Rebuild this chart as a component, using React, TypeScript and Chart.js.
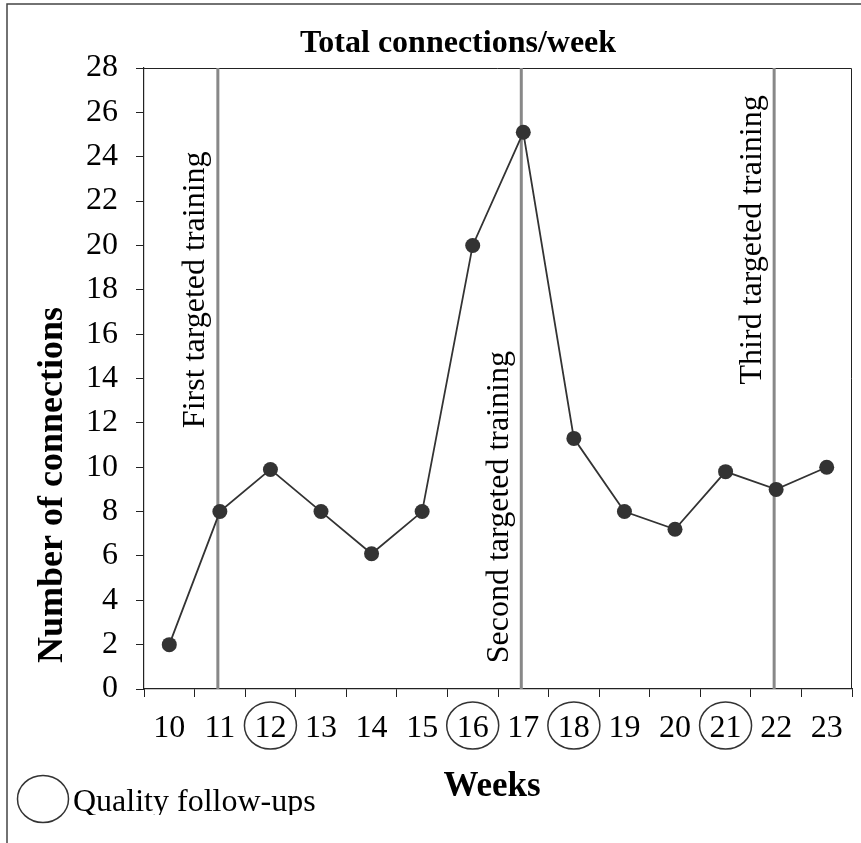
import React, { useEffect, useRef } from 'react';
import { Chart, registerables } from 'chart.js';

Chart.register(...registerables);

const weeks = ['10', '11', '12', '13', '14', '15', '16', '17', '18', '19', '20', '21', '22', '23'];
const connections = [2, 8, 9.9, 8, 6.1, 8, 20, 25.1, 11.3, 8, 7.2, 9.8, 9, 10];
const yMin = 0;
const yMax = 28;
const yStep = 2;
const trainingWeeks = ['11', '17', '22'];
const trainingLabels = ['First targeted training', 'Second targeted training', 'Third targeted training'];
const trainingLabelCenters = [18, 8.2, 20.25];
const qualityWeeks = ['12', '16', '18', '21'];
const chartTitle = 'Total connections/week';
const yTitle = 'Number of connections';
const xTitle = 'Weeks';
const legendLabel = 'Quality follow-ups';

const FONT = '"Liberation Serif", "Times New Roman", serif';
const INK = '#333333';

const decorPlugin = {
  id: 'decor',
  beforeDraw(chart: any) {
    const ctx = chart.ctx;
    ctx.save();
    ctx.fillStyle = '#ffffff';
    ctx.fillRect(0, 0, chart.width, chart.height);
    ctx.strokeStyle = '#444444';
    ctx.lineWidth = 1.5;
    ctx.beginPath();
    ctx.moveTo(7, chart.height);
    ctx.lineTo(7, 4);
    ctx.lineTo(chart.width, 4);
    ctx.stroke();
    ctx.restore();
  },
  beforeDatasetsDraw(chart: any) {
    const ctx = chart.ctx;
    const { left, right, top, bottom } = chart.chartArea;
    const xs = chart.scales.x;
    const ys = chart.scales.y;
    ctx.save();
    ctx.strokeStyle = '#222222';
    ctx.lineWidth = 1;
    ctx.beginPath();
    ctx.moveTo(left, top + 0.5);
    ctx.lineTo(right - 0.5, top + 0.5);
    ctx.lineTo(right - 0.5, bottom);
    ctx.stroke();
    ctx.strokeStyle = '#888888';
    ctx.lineWidth = 3;
    trainingWeeks.forEach((w, i) => {
      const x = xs.getPixelForValue(weeks.indexOf(w)) - 2;
      ctx.beginPath();
      ctx.moveTo(x, top);
      ctx.lineTo(x, bottom);
      ctx.stroke();
      ctx.save();
      ctx.translate(x - 22, ys.getPixelForValue(trainingLabelCenters[i]));
      ctx.rotate(-Math.PI / 2);
      ctx.fillStyle = '#000000';
      ctx.font = `32px ${FONT}`;
      ctx.textAlign = 'center';
      ctx.textBaseline = 'middle';
      ctx.fillText(trainingLabels[i], 0, 0);
      ctx.restore();
    });
    ctx.restore();
  },
  afterDraw(chart: any) {
    const ctx = chart.ctx;
    const xs = chart.scales.x;
    ctx.save();
    ctx.fillStyle = '#000000';
    ctx.font = `bold 32px ${FONT}`;
    ctx.textAlign = 'center';
    ctx.textBaseline = 'alphabetic';
    ctx.fillText(chartTitle, 458, 52);
    ctx.font = `bold 35px ${FONT}`;
    ctx.fillText(xTitle, 492, 796);
    ctx.save();
    ctx.font = `bold 36px ${FONT}`;
    ctx.translate(53, 485);
    ctx.rotate(-Math.PI / 2);
    ctx.textBaseline = 'middle';
    ctx.fillText(yTitle, 0, 0);
    ctx.restore();
    ctx.strokeStyle = INK;
    ctx.lineWidth = 1.5;
    qualityWeeks.forEach((w) => {
      const x = xs.getPixelForValue(weeks.indexOf(w));
      ctx.beginPath();
      ctx.ellipse(x, 725.5, 26, 23.5, 0, 0, Math.PI * 2);
      ctx.stroke();
    });
    ctx.beginPath();
    ctx.ellipse(43, 799, 25.5, 23.5, 0, 0, Math.PI * 2);
    ctx.stroke();
    ctx.save();
    ctx.beginPath();
    ctx.rect(60, 760, 400, 55);
    ctx.clip();
    ctx.font = `32px ${FONT}`;
    ctx.textAlign = 'left';
    ctx.fillText(legendLabel, 73, 811);
    ctx.restore();
    ctx.restore();
  },
};

export default function App() {
  const ref = useRef<HTMLCanvasElement>(null);
  useEffect(() => {
    document.body.style.margin = '0';
    const canvas = ref.current;
    if (!canvas) return;
    const chart = new Chart(canvas, {
      type: 'line',
      data: {
        labels: weeks,
        datasets: [
          {
            data: connections,
            borderColor: INK,
            borderWidth: 1.8,
            backgroundColor: INK,
            pointBackgroundColor: INK,
            pointBorderColor: INK,
            pointRadius: 7.5,
            pointBorderWidth: 0,
            tension: 0,
            fill: false,
          },
        ],
      },
      options: {
        responsive: false,
        animation: false,
        devicePixelRatio: 1,
        layout: { padding: { left: 0, top: 68, right: 9, bottom: 94 } },
        plugins: { legend: { display: false }, tooltip: { enabled: false }, title: { display: false } },
        scales: {
          x: {
            type: 'category',
            offset: true,
            grid: {
              offset: true,
              drawOnChartArea: false,
              drawTicks: true,
              tickLength: 8,
              color: '#222222',
              lineWidth: 1,
            },
            border: { display: true, color: '#222222', width: 1.2 },
            ticks: {
              autoSkip: false,
              maxRotation: 0,
              minRotation: 0,
              padding: 12,
              color: '#000000',
              font: { family: FONT, size: 32 },
            },
            afterFit: (scale: any) => {
              scale.height = 60;
            },
          },
          y: {
            min: yMin,
            max: yMax,
            ticks: {
              stepSize: yStep,
              autoSkip: false,
              padding: 18,
              color: '#000000',
              font: { family: FONT, size: 32 },
            },
            grid: {
              drawOnChartArea: false,
              drawTicks: true,
              tickLength: 8,
              color: '#222222',
              lineWidth: 1,
            },
            border: { display: true, color: '#222222', width: 1.2 },
            afterFit: (scale: any) => {
              scale.width = 144;
            },
          },
        },
      },
      plugins: [decorPlugin],
    });
    return () => chart.destroy();
  }, []);
  return <canvas ref={ref} width={861} height={843} style={{ display: 'block' }} />;
}
